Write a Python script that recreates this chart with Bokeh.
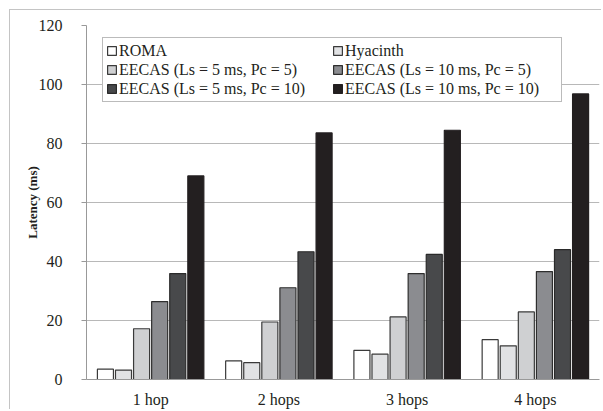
from bokeh.plotting import figure
from bokeh.models import FactorRange, Legend, LegendItem, FixedTicker, ColumnDataSource
from bokeh.transform import dodge
from bokeh.embed import file_html
from bokeh.resources import INLINE

hops = ["1 hop", "2 hops", "3 hops", "4 hops"]
series_names = ["ROMA", "Hyacinth", "EECAS (Ls = 5 ms, Pc = 5)", "EECAS (Ls = 10 ms, Pc = 5)",
                "EECAS (Ls = 5 ms, Pc = 10)", "EECAS (Ls = 10 ms, Pc = 10)"]
roma = [3.5, 6.3, 9.9, 13.5]
hyacinth = [3.2, 5.7, 8.6, 11.4]
eecas_5_5 = [17.2, 19.5, 21.2, 22.9]
eecas_10_5 = [26.4, 31.1, 35.9, 36.6]
eecas_5_10 = [35.9, 43.3, 42.4, 44.0]
eecas_10_10 = [69.0, 83.6, 84.5, 96.8]
y_ticks = [0, 20, 40, 60, 80, 100, 120]

colors = ["#ffffff", "#e1e2e4", "#cfd0d2", "#8b8c90", "#48494b", "#231f20"]
outlines = ["#3a3a3a", "#3a3a3a", "#3a3a3a", "#2e2e2e", "#2a2a2a", "#231f20"]
values = [roma, hyacinth, eecas_5_5, eecas_10_5, eecas_5_10, eecas_10_10]

FONT = "Liberation Serif"

p = figure(x_range=FactorRange(factors=hops, range_padding=0), y_range=(0, 120),
           width=592, height=400, output_backend="svg", toolbar_location=None,
           min_border_left=76, min_border_right=3, min_border_top=15, min_border_bottom=30)
p.styles = {"margin-left": "9px", "margin-top": "9px",
            "border-left": "1px solid #c4c4c4", "border-top": "1px solid #c4c4c4"}

data = {"hop": hops}
for i, v in enumerate(values):
    data[f"s{i}"] = v
src = ColumnDataSource(data)

step = 0.141
renderers = []
for i in range(6):
    off = (i - 2.5) * step
    r = p.vbar(x=dodge("hop", off, range=p.x_range), top=f"s{i}", width=0.125, source=src,
               fill_color=colors[i], line_color=outlines[i], line_width=1.2)
    renderers.append(r)

order = [0, 2, 4, 1, 3, 5]
items = [LegendItem(label=series_names[k], renderers=[renderers[k]]) for k in order]
legend = Legend(items=items, ncols=2, location=(16, 277), orientation="vertical")
legend.label_text_font = FONT
legend.label_text_font_size = "16px"
legend.label_text_color = "#231f20"
legend.glyph_width = 11
legend.glyph_height = 11
legend.label_standoff = 2
legend.label_height = 19
legend.label_width = 213
legend.spacing = 0
legend.padding = 3
legend.margin = 0
legend.border_line_color = "#777777"
legend.border_line_width = 1
legend.background_fill_alpha = 1
p.add_layout(legend, "center")

p.outline_line_color = None
p.xgrid.grid_line_color = None
p.ygrid.grid_line_color = "#b8b8b8"
p.ygrid.grid_line_width = 1
p.yaxis.ticker = FixedTicker(ticks=y_ticks)
p.yaxis.axis_label = "Latency (ms)"
p.yaxis.axis_label_text_font = FONT
p.yaxis.axis_label_text_font_style = "bold"
p.yaxis.axis_label_text_font_size = "13px"
p.yaxis.axis_label_text_color = "#231f20"
p.yaxis.axis_label_standoff = -4
p.yaxis.major_label_standoff = 19
p.yaxis.major_tick_out = 5
p.yaxis.major_tick_in = 0
p.yaxis.minor_tick_line_color = None
for ax in (p.xaxis, p.yaxis):
    ax.axis_line_color = "#999999"
    ax.major_tick_line_color = "#999999"
    ax.major_label_text_font = FONT
    ax.major_label_text_font_size = "16px"
    ax.major_label_text_color = "#231f20"
p.xaxis.major_tick_line_color = None
p.xaxis.major_label_standoff = 5

open("out.html", "w").write(file_html(p, INLINE))
